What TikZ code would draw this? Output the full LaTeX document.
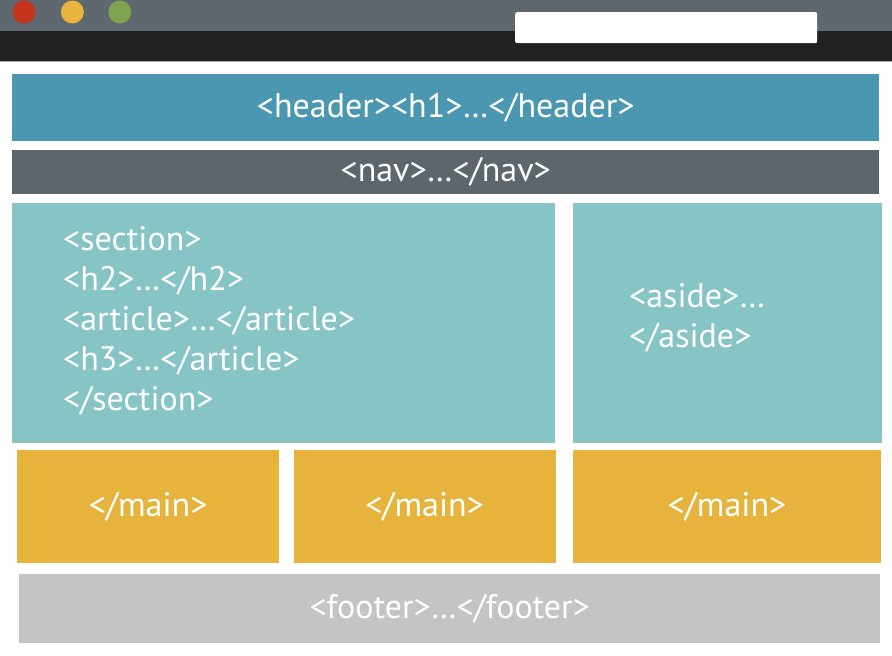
\documentclass[tikz,border=0pt]{standalone}
\usepackage{fontspec}
\setmainfont{PT Sans}
\usetikzlibrary{positioning}

\definecolor{bargray}{HTML}{5F686E}
\definecolor{bardark}{HTML}{212121}
\definecolor{dotred}{HTML}{C8331F}
\definecolor{dotyellow}{HTML}{EAB53C}
\definecolor{dotgreen}{HTML}{7FA350}
\definecolor{headerblue}{HTML}{4B96B0}
\definecolor{navgray}{HTML}{5D666C}
\definecolor{sectteal}{HTML}{87C4C5}
\definecolor{mainyellow}{HTML}{E6B43C}
\definecolor{footgray}{HTML}{C3C4C6}

\begin{document}
\begin{tikzpicture}[x=1pt, y=-1pt,
		block/.style={rectangle, inner sep=0pt, text=white, font=\fontsize{34}{40}\selectfont},
		hdrblock/.style={block, fill=headerblue, minimum width=867pt, minimum height=67pt},
		navblock/.style={block, fill=navgray, minimum width=867pt, minimum height=44pt},
		tealblock/.style={block, fill=sectteal, minimum height=240pt},
		mainblock/.style={block, fill=mainyellow, minimum height=113pt},
		footblock/.style={block, fill=footgray, minimum width=861pt, minimum height=69pt},
		codetext/.style={inner sep=0pt, anchor=base west, text=white, font=\fontsize{34}{40}\selectfont},
		dot/.style={circle, inner sep=0pt, minimum size=23pt}
	]

	\useasboundingbox (0,0) rectangle (892,656);
	\fill[white] (0,0) rectangle (892,656);

	% browser bar
	\fill[bargray] (0,0) rectangle (892,31);
	\fill[bardark] (0,31) rectangle (892,61);
	\draw[gray!70, line width=1pt] (0,61.5) -- (892,61.5);
	\node[dot, fill=dotred] (red) at (24,12) {};
	\node[dot, fill=dotyellow, right=25pt of red] (yellow) {};
	\node[dot, fill=dotgreen, right=24pt of yellow] (green) {};
	\node[rectangle, fill=white, rounded corners=2pt, minimum width=302pt, minimum height=31pt, anchor=north west] (search) at (515,12) {};

	% page blocks
	\node[hdrblock, anchor=north west] (header) at (12,74) {<header><h1>…</header>};
	\node[navblock, below=8pt of header] (nav) {<nav>…</nav>};
	\node[tealblock, minimum width=543pt, below=9pt of nav.south west, anchor=north west] (section) {};
	\node[tealblock, minimum width=309pt, right=17pt of section] (aside) {};
	\node[mainblock, minimum width=262pt, anchor=north west] (mainA) at (17,450) {</main>};
	\node[mainblock, minimum width=262pt, right=14pt of mainA] (mainB) {</main>};
	\node[mainblock, minimum width=308pt, right=17pt of mainB] (mainC) {</main>};
	\node[footblock, anchor=north west] (footer) at (19,574) {<footer>…</footer>};

	% code lines
	\foreach \txt [count=\i from 0] in {<section>, <h2>…</h2>, <article>…</article>, <h3>…</article>, </section>}
		\node[codetext] (sec\i) at (63,250+40*\i) {\txt};
	\node[codetext] (asideA) at (629,307) {<aside>…};
	\node[codetext] (asideB) at (629,347) {</aside>};

\end{tikzpicture}
\end{document}
